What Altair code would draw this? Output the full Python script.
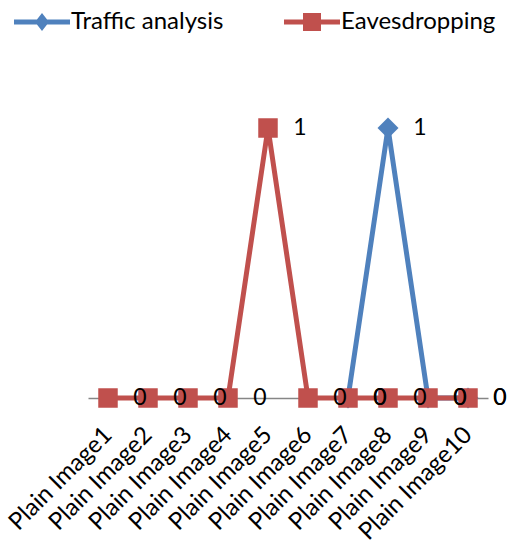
import altair as alt
import pandas as pd

categories = [f"Plain Image{i}" for i in range(1, 11)]
series_names = ["Traffic analysis", "Eavesdropping"]
traffic = [None, None, None, None, None, None, 0, 1, 0, 0]
eaves = [0, 0, 0, 0, 1, 0, 0, 0, 0, 0]

BLUE = "#4F81BD"
RED = "#C0504D"
FONT = "Lato"

rows = []
for c, v in zip(categories, traffic):
    rows.append({"category": c, "series": series_names[0], "value": v})
for c, v in zip(categories, eaves):
    rows.append({"category": c, "series": series_names[1], "value": v})
df = pd.DataFrame(rows)

x_enc = alt.X(
    "category:N",
    sort=categories,
    scale=alt.Scale(type="point", padding=0.5, domain=categories),
    axis=alt.Axis(
        title=None,
        labelAngle=-45,
        labelAlign="right",
        labelBaseline="middle",
        ticks=False,
        labelPadding=33,
        labelFont=FONT,
        labelFontSize=24,
        labelColor="black",
        domainColor="#868686",
        domainWidth=1.5,
        grid=False,
    ),
)
y_enc = alt.Y("value:Q", scale=alt.Scale(domain=[0, 1]), axis=None)

base = alt.Chart(df).encode(x=x_enc, y=y_enc)

def series_filter(name):
    return alt.datum.series == name

blue = base.transform_filter(series_filter(series_names[0])).transform_filter("isValid(datum.value)")
red = base.transform_filter(series_filter(series_names[1]))

blue_line = blue.mark_line(color=BLUE, strokeWidth=5)
blue_pts = blue.mark_point(shape="diamond", filled=True, color=BLUE, size=440, opacity=1)
red_line = red.mark_line(color=RED, strokeWidth=5)
red_pts = red.mark_point(shape="square", filled=True, color=RED, size=380, opacity=1)

text_props = dict(dx=32, align="center", baseline="middle", font=FONT, fontSize=23, color="black")
blue_lbl = blue.mark_text(**text_props).encode(text=alt.Text("value:Q"))
red_lbl = red.mark_text(**text_props).encode(text=alt.Text("value:Q"))

# legend-only layer (no data drawn)
line_diamond = "M-2.8,-0.25L2.8,-0.25L2.8,0.25L-2.8,0.25Z M0,-0.9L0.7,0L0,0.9L-0.7,0Z"
line_square = "M-2.8,-0.25L2.8,-0.25L2.8,0.25L-2.8,0.25Z M-0.9,-0.9L0.9,-0.9L0.9,0.9L-0.9,0.9Z"
legend = alt.Legend(
    title=None, orient="none", direction="horizontal",
    legendX=-58, legendY=-118, padding=0,
    symbolSize=400, labelOffset=17, columnPadding=60,
    labelFont=FONT, labelFontSize=24, labelColor="black",
    symbolOpacity=1, symbolStrokeWidth=0,
)
legend_layer = alt.Chart(df).transform_filter("false").mark_point(filled=True, opacity=1).encode(
    color=alt.Color("series:N", scale=alt.Scale(domain=series_names, range=[BLUE, RED]), legend=legend),
    shape=alt.Shape("series:N", scale=alt.Scale(domain=series_names, range=[line_diamond, line_square]), legend=legend),
)

chart = alt.layer(
    blue_line, blue_pts, red_line, red_pts, red_lbl, blue_lbl, legend_layer
).properties(
    width=400, height=270,
    background="white",
    autosize=alt.AutoSizeParams(type="none"),
    padding={"left": 88, "top": 128, "right": 23, "bottom": 142},
).configure_view(strokeWidth=0, stroke="transparent").configure_axis(grid=False)

chart.save("out.html", embed_options={"renderer": "svg", "actions": False})
